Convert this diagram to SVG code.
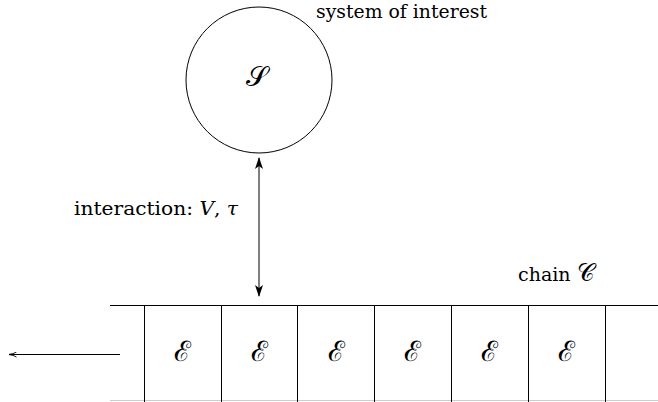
<svg xmlns="http://www.w3.org/2000/svg" width="658" height="402" viewBox="0 0 658 402">
<style>
.t{font-family:"DejaVu Serif","Liberation Serif",serif;font-size:19px;fill:#000}
.m{font-family:"DejaVu Serif","Liberation Serif",serif;font-size:28px;fill:#000}
.ln{stroke:#000;stroke-width:1;fill:none}
</style>
<defs>
<marker id="ah" viewBox="0 0 12 8" refX="11" refY="4" markerWidth="12" markerHeight="8" markerUnits="userSpaceOnUse" orient="auto-start-reverse">
<path d="M0,0 L12,4 L0,8 L3,4 Z" fill="#000"/>
</marker>
<marker id="ahs" viewBox="0 0 8 6" refX="7.5" refY="3" markerWidth="8" markerHeight="6" markerUnits="userSpaceOnUse" orient="auto">
<path d="M0,0.5 Q3,2.5 8,3 Q3,3.5 0,5.5" fill="none" stroke="#000" stroke-width="0.9"/>
</marker>
</defs>
<g id="system">
<circle cx="259" cy="80" r="73" class="ln"/>
<text x="257" y="86" class="m" text-anchor="middle">𝒮</text>
<text x="316" y="18" class="t" textLength="171" lengthAdjust="spacingAndGlyphs">system of interest</text>
</g>
<g id="chain">
<line x1="110" y1="305.5" x2="658" y2="305.5" class="ln"/>
<line x1="110" y1="400.5" x2="658" y2="400.5" stroke="#ccc" stroke-width="1"/>
<line x1="144.5" y1="305" x2="144.5" y2="402" class="ln"/>
<line x1="221.5" y1="305" x2="221.5" y2="402" class="ln"/>
<line x1="297.5" y1="305" x2="297.5" y2="402" class="ln"/>
<line x1="374.5" y1="305" x2="374.5" y2="402" class="ln"/>
<line x1="451.5" y1="305" x2="451.5" y2="402" class="ln"/>
<line x1="528.5" y1="305" x2="528.5" y2="402" class="ln"/>
<line x1="605.5" y1="305" x2="605.5" y2="402" class="ln"/>
<text x="518" y="281" class="t">chain <tspan font-size="24">𝒞</tspan></text>
</g>
<g id="cells">
<text x="182" y="361" class="m" text-anchor="middle">ℰ</text>
<text x="259" y="361" class="m" text-anchor="middle">ℰ</text>
<text x="336" y="361" class="m" text-anchor="middle">ℰ</text>
<text x="412" y="361" class="m" text-anchor="middle">ℰ</text>
<text x="489" y="361" class="m" text-anchor="middle">ℰ</text>
<text x="566" y="361" class="m" text-anchor="middle">ℰ</text>
</g>
<g id="label">
<text x="74" y="215" class="t" textLength="164" lengthAdjust="spacingAndGlyphs">interaction:  <tspan font-style="italic">V</tspan>, <tspan font-style="italic">τ</tspan></text>
</g>
<g id="connectors">
<line x1="259" y1="158" x2="259" y2="296" class="ln" marker-start="url(#ah)" marker-end="url(#ah)"/>
<line x1="120" y1="354.5" x2="9" y2="354.5" class="ln" marker-end="url(#ahs)"/>
</g>
</svg>
